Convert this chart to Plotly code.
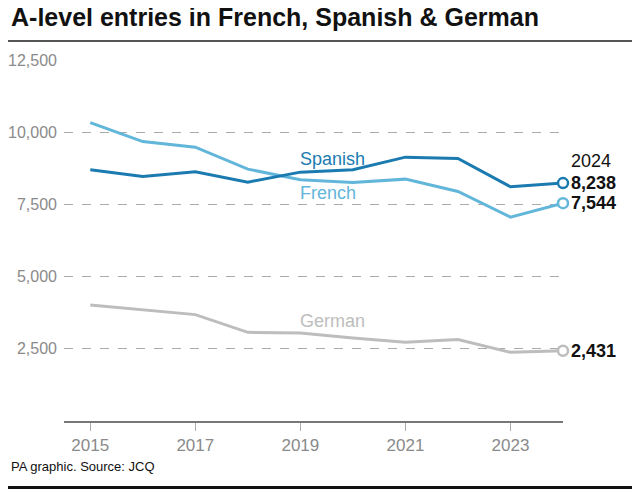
import plotly.graph_objects as go

years = [2015, 2016, 2017, 2018, 2019, 2020, 2021, 2022, 2023, 2024]
spanish = [8697, 8466, 8628, 8271, 8617, 8697, 9136, 9088, 8109, 8238]
french = [10333, 9676, 9482, 8721, 8351, 8258, 8375, 7947, 7061, 7544]
german = [4018, 3850, 3683, 3071, 3050, 2877, 2725, 2818, 2379, 2431]

y_ticks = [2500, 5000, 7500, 10000, 12500]
y_tick_text = ["2,500", "5,000", "7,500", "10,000", "12,500"]
x_ticks = [2015, 2017, 2019, 2021, 2023]

C_SPA = "#1b7bb0"
C_FRE = "#62b6da"
C_GER = "#bdbdbd"
FONT = "Liberation Sans"

# page body has an 8px margin, so everything is laid out 8px up/left
L, T, R, B = 56, 52, 85, 75.5
PW = 640 - L - R
PH = 489 - T - B

fig = go.Figure()
for name, vals, col in [("German", german, C_GER), ("French", french, C_FRE), ("Spanish", spanish, C_SPA)]:
    fig.add_trace(go.Scatter(x=years, y=vals, mode="lines", line=dict(color=col, width=3),
                             name=name, showlegend=False, hoverinfo="skip"))
    fig.add_trace(go.Scatter(x=[years[-1]], y=[vals[-1]], mode="markers",
                             marker=dict(symbol="circle", size=10, color="white",
                                         line=dict(color=col, width=2.5)),
                             showlegend=False, hoverinfo="skip", cliponaxis=False))

fig.update_layout(
    width=640, height=489,
    margin=dict(l=L, r=R, t=T, b=B, autoexpand=False),
    paper_bgcolor="white", plot_bgcolor="white",
    font=dict(family=FONT, color="#8a8a8a", size=16),
    xaxis=dict(range=[2014.5, 2024], tickvals=x_ticks, ticks="outside", ticklen=8,
               tickcolor="#aaaaaa", tickwidth=1, showgrid=False, zeroline=False,
               showline=True, linecolor="#777777", linewidth=1.5, automargin=False,
               tickfont=dict(family=FONT, size=17, color="#8a8a8a")),
    yaxis=dict(range=[0, 12500], tickvals=y_ticks, ticktext=y_tick_text,
               showgrid=True, gridcolor="#aaaaaa", griddash="dash", gridwidth=1,
               zeroline=False, showline=False, ticks="", ticklabelstandoff=6, automargin=False,
               tickfont=dict(family=FONT, size=16, color="#8a8a8a")),
)

ann = []
ann.append(dict(x=2019.0, y=spanish[4], text="Spanish", showarrow=False, xanchor="left",
                yanchor="bottom", yshift=1, xshift=-2, font=dict(family=FONT, size=18, color=C_SPA)))
ann.append(dict(x=2019.0, y=french[4], text="French", showarrow=False, xanchor="left",
                yanchor="top", yshift=-1, xshift=-2, font=dict(family=FONT, size=18, color=C_FRE)))
ann.append(dict(x=2019.0, y=german[4], text="German", showarrow=False, xanchor="left",
                yanchor="bottom", yshift=0, xshift=-2, font=dict(family=FONT, size=18, color=C_GER)))
ann.append(dict(x=2024, y=spanish[-1], text="2024", showarrow=False, xanchor="left",
                yanchor="bottom", xshift=6, yshift=10, font=dict(family=FONT, size=18, color="#111111")))
for vals in [spanish, french, german]:
    ann.append(dict(x=2024, y=vals[-1], text="<b>{:,}</b>".format(vals[-1]), showarrow=False,
                    xanchor="left", yanchor="middle", xshift=6,
                    font=dict(family=FONT, size=18, color="#111111")))
ann.append(dict(xref="paper", yref="paper", x=-(L - 1) / PW, y=1 + (T - 9) / PH, xanchor="left", yanchor="middle",
                text="<b>A-level entries in French, Spanish &amp; German</b>", showarrow=False,
                font=dict(family=FONT, size=25, color="#111111")))
ann.append(dict(xref="paper", yref="paper", x=-(L - 1) / PW, y=-(B - 30) / PH, xanchor="left", yanchor="middle",
                text="PA graphic. Source: JCQ", showarrow=False,
                font=dict(family=FONT, size=13, color="#111111")))
fig.update_layout(annotations=ann)

fig.add_shape(type="line", xref="paper", yref="paper", x0=-L / PW, x1=1 + R / PW,
              y0=1 + (T - 33) / PH, y1=1 + (T - 33) / PH, line=dict(color="#555555", width=2))
fig.add_shape(type="line", xref="paper", yref="paper", x0=-L / PW, x1=1 + R / PW,
              y0=-(B - 9) / PH, y1=-(B - 9) / PH, line=dict(color="#111111", width=3))

fig.write_html("out.html")
